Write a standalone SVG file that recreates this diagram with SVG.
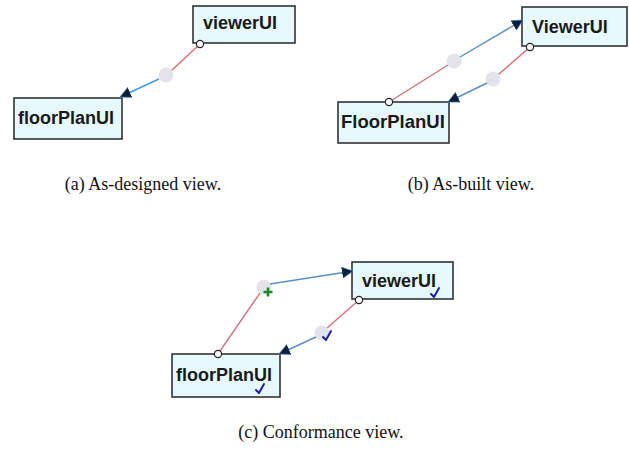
<svg xmlns="http://www.w3.org/2000/svg" width="629" height="459" viewBox="0 0 629 459">
<defs>
<style>
.box{fill:#e8f9fd;stroke:#333;stroke-width:1.6}
.lbl{font-family:"Liberation Sans",Arial,sans-serif;font-weight:bold;font-size:18px;fill:#1a1a1a}
.cap{font-family:"Liberation Serif","Times New Roman",serif;font-size:18px;fill:#111;text-anchor:middle}
.red{stroke:#e06a72;stroke-width:1.4;fill:none}
.red2{stroke:#d4707c;stroke-width:1.4;fill:none}
.blue{stroke:#3f9be6;stroke-width:1.4;fill:none;marker-end:url(#arr)}
.blue2{stroke:#5a8fc4;stroke-width:1.4;fill:none;marker-end:url(#arr)}
.dot{fill:#e4e2ea}
.port{fill:#fff;stroke:#222;stroke-width:1.2}
.chk{fill:none;stroke:#1c1ca8;stroke-width:2;stroke-linecap:round;stroke-linejoin:round}
.plus{stroke:#1e8a1e;stroke-width:2.6}
</style>
<marker id="arr" viewBox="0 0 10 10" refX="10" refY="5" markerWidth="11" markerHeight="11" markerUnits="userSpaceOnUse" orient="auto">
<path d="M0,0 L10,5 L0,10 Z" fill="#0c1e38" stroke="#3a78b0" stroke-width="0.6"/>
</marker>
</defs>
<rect width="629" height="459" fill="#fff"/>

<g id="a-viewerUI">
<rect class="box" x="193" y="6" width="102" height="37"/>
<text class="lbl" x="203" y="29">viewerUI</text>
</g>
<g id="a-floorPlanUI">
<rect class="box" x="14" y="98" width="108" height="41"/>
<text class="lbl" x="18" y="124">floorPlanUI</text>
</g>

<g id="b-ViewerUI">
<rect class="box" x="522" y="7" width="105" height="39"/>
<text class="lbl" x="532" y="33">ViewerUI</text>
</g>
<g id="b-FloorPlanUI">
<rect class="box" x="338" y="102" width="111" height="41"/>
<text class="lbl" x="341" y="128" style="font-size:18.5px">FloorPlanUI</text>
</g>

<g id="c-viewerUI">
<rect class="box" x="352" y="262" width="101" height="37"/>
<text class="lbl" x="362" y="287">viewerUI</text>
<path class="chk" d="M431,294 L434,297 L439,288"/>
</g>
<g id="c-floorPlanUI">
<rect class="box" x="172" y="354" width="108" height="43"/>
<text class="lbl" x="176" y="381">floorPlanUI</text>
<path class="chk" d="M256,390 L259,393 L264,384"/>
</g>

<g id="connectors">
<!-- (a) -->
<path class="red" d="M200,44 L171,71"/>
<circle class="dot" cx="166" cy="75" r="7.5"/>
<path class="blue" d="M159,79 L120,97"/>
<circle class="port" cx="200" cy="44" r="3.6"/>
<!-- (b) -->
<path class="red2" d="M389,102 L448,65"/>
<circle class="dot" cx="454" cy="61" r="7.5"/>
<path class="blue2" d="M460,57 L523,20"/>
<path class="red2" d="M530,47 L498,75"/>
<circle class="dot" cx="493" cy="79" r="7.5"/>
<path class="blue2" d="M487,83 L448,102"/>
<circle class="port" cx="389" cy="102" r="3.6"/>
<circle class="port" cx="530" cy="47" r="3.6"/>
<!-- (c) -->
<path class="red2" d="M218,354 L260,293"/>
<circle class="dot" cx="264" cy="287" r="7.5"/>
<path class="blue2" d="M270,284 L353,271"/>
<path class="red2" d="M359,300 L327,328"/>
<circle class="dot" cx="322" cy="333" r="7.5"/>
<path class="blue2" d="M316,337 L279,354"/>
<circle class="port" cx="218" cy="354" r="3.6"/>
<circle class="port" cx="359" cy="300" r="3.6"/>
<path class="plus" d="M263.5,292 H272.5 M268,287.5 V296.5"/>
<path class="chk" d="M323,337 L326,340 L331,331"/>
</g>

<text class="cap" x="143" y="190">(a)  As-designed view.</text>
<text class="cap" x="471" y="190">(b)  As-built view.</text>
<text class="cap" x="321" y="438">(c)  Conformance view.</text>
</svg>
